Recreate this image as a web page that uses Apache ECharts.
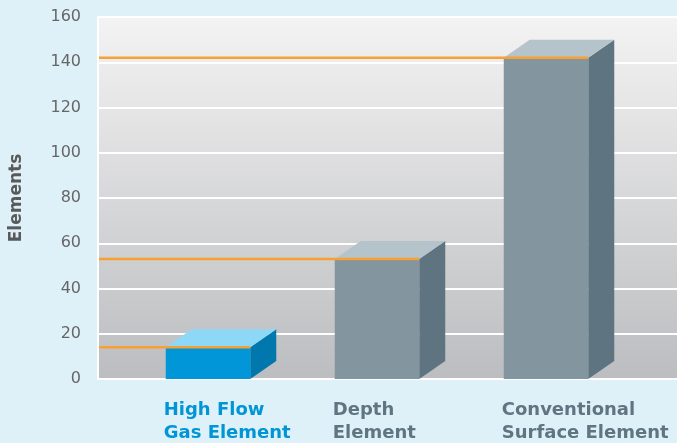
<!DOCTYPE html>
<html>
<head>
<meta charset="utf-8">
<script src="https://cdn.jsdelivr.net/npm/echarts@6/dist/echarts.min.js"></script>
<style>
html,body{margin:0;padding:0;background:#dff1f8;}
#c{width:677px;height:443px;}
</style>
</head>
<body>
<div id="c"></div>
<script>
// Data
var categories = ['High Flow\nGas Element', 'Depth\nElement', 'Conventional\nSurface Element'];
var values = [14, 53, 142];
var yTicks = { min: 0, max: 160, interval: 20 };
var yTitle = 'Elements';

// Styles
var palettes = [
  { front: '#0096d7', top: '#8dd8f6', side: '#0077ad', label: '#0095d6' },
  { front: '#83959e', top: '#b5c3ca', side: '#5e7581', label: '#5f7682' },
  { front: '#83959e', top: '#b5c3ca', side: '#5e7581', label: '#5f7682' }
];
var ORANGE = '#f8a032';
var PLOT_LEFT = 99;
var DX = 26, DY = 18;

var chart = echarts.init(document.getElementById('c'), null, { renderer: 'canvas' });

function renderItem(params, api) {
  var idx = params.dataIndex;
  var val = api.value(1);
  var top = api.coord([api.value(0), val]);
  var base = api.coord([api.value(0), 0]);
  var w = api.size([1, 0])[0] * 0.5;
  var x0 = top[0] - w / 2, x1 = top[0] + w / 2;
  var yt = top[1], yb = base[1];
  var p = palettes[idx];
  return {
    type: 'group',
    children: [
      { type: 'polygon', shape: { points: [[x1, yt], [x1 + DX, yt - DY], [x1 + DX, yb - DY], [x1, yb]] }, style: { fill: p.side } },
      { type: 'polygon', shape: { points: [[x0, yt], [x1, yt], [x1 + DX, yt - DY], [x0 + DX, yt - DY]] }, style: { fill: p.top } },
      { type: 'rect', shape: { x: x0, y: yt, width: w, height: yb - yt }, style: { fill: p.front } },
      { type: 'line', shape: { x1: PLOT_LEFT, y1: yt, x2: x1, y2: yt }, style: { stroke: ORANGE, lineWidth: 2.5 } },
      { type: 'text', x: x0 - 2, y: yb + 20, style: {
          text: categories[idx], fill: p.label, font: 'bold 18px "DejaVu Sans"',
          lineHeight: 23, align: 'left', verticalAlign: 'top' } }
    ]
  };
}

chart.setOption({
  backgroundColor: '#dff1f8',
  animation: false,
  grid: [
    { left: 98, right: -3, top: 17, bottom: 64, show: true, borderWidth: 0,
      backgroundColor: new echarts.graphic.LinearGradient(0, 0, 0, 1, [
        { offset: 0, color: '#f3f3f3' }, { offset: 1, color: '#bcbdc0' }
      ]) },
    { left: 123.5, right: 46.5, top: 17, bottom: 64 }
  ],
  xAxis: [
    { type: 'value', gridIndex: 0, show: false, min: 0, max: 1 },
    { type: 'category', gridIndex: 1, data: categories, show: false }
  ],
  yAxis: [
    { type: 'value', gridIndex: 0, min: yTicks.min, max: yTicks.max, interval: yTicks.interval,
      name: yTitle, nameLocation: 'middle', nameRotate: 90, nameGap: 73,
      nameTextStyle: { fontFamily: '"DejaVu Sans"', fontWeight: 'bold', fontSize: 17, color: '#5a5a5a' },
      axisLine: { show: true, lineStyle: { color: '#ffffff', width: 2 } },
      axisTick: { show: false },
      axisLabel: { fontFamily: '"DejaVu Sans"', fontSize: 16, color: '#666666', margin: 17 },
      splitLine: { show: true, lineStyle: { color: '#ffffff', width: 2 } } },
    { type: 'value', gridIndex: 1, min: yTicks.min, max: yTicks.max, interval: yTicks.interval, show: false }
  ],
  series: [{
    type: 'custom',
    xAxisIndex: 1, yAxisIndex: 1,
    renderItem: renderItem,
    clip: false,
    data: values.map(function (v, i) { return [i, v]; })
  }]
});
</script>
</body>
</html>
